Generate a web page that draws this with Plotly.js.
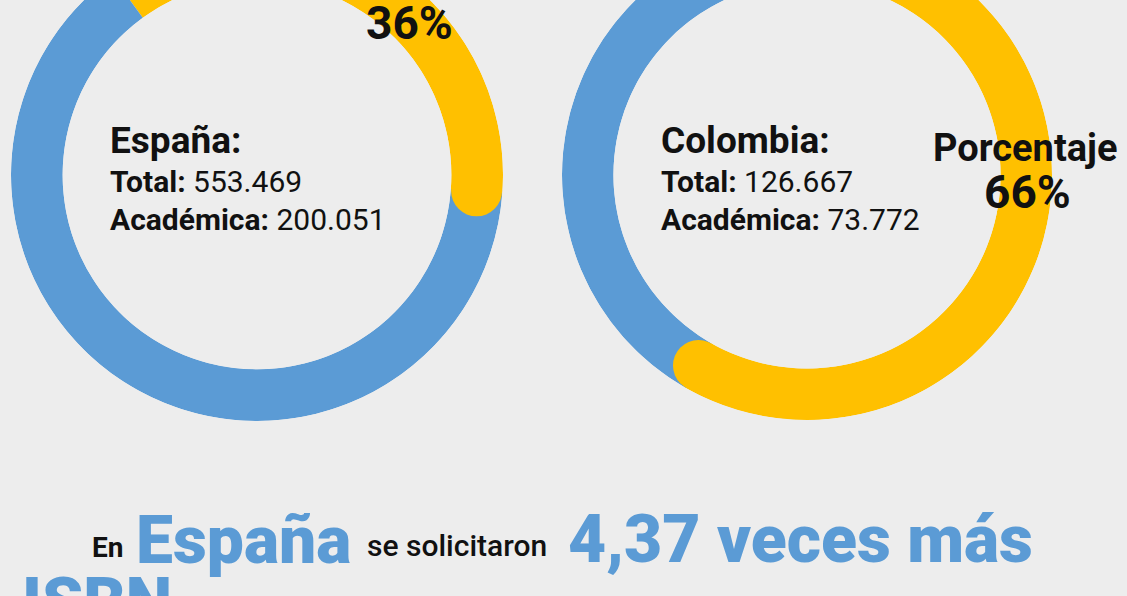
<!DOCTYPE html>
<html><head><meta charset="utf-8">
<script src="https://cdn.plot.ly/plotly-3.0.1.min.js"></script>
<style>
html,body{margin:0;padding:0;background:#ededed;overflow:hidden;width:1127px;height:596px;}
#chart{position:absolute;left:0;top:-80px;width:1127px;height:740px;}
</style></head><body><div id="chart"></div>
<script>
// ---- data ----
const countries = ["España", "Colombia"];
const totals = [553469, 126667];
const academic = [200051, 73772];
const percentLabels = ["36%", "66%"];
const percentTitle = "Porcentaje";
const sentenceParts = ["En", "España", "se solicitaron", "4,37 veces más", "ISBN"];

// ---- styling / layout ----
const BLUE = "#5b9bd5", YELLOW = "#ffc000", BG = "#ededed";
const W = 1127, H = 740, OFF = 80;
const px = x => x / W;
const py = y => 1 - (y + OFF) / H;
const startAngles = [-36, 0];
const HOLE = 0.79;
const domains = [
  {x: [px(11), px(503)], y: [py(421), py(-71)]},
  {x: [px(562), px(1052)], y: [py(420), py(-70)]}
];
const fmt = n => String(n).replace(/\B(?=(\d{3})+(?!\d))/g, ".");

const traces = [];
const layout = {
  width: W, height: H, margin: {l: 0, r: 0, t: 0, b: 0},
  paper_bgcolor: BG, plot_bgcolor: BG, showlegend: false, hovermode: false,
  font: {family: "Roboto, 'Open Sans', sans-serif", color: "#000"},
  annotations: []
};

countries.forEach((c, i) => {
  const sub = i === 0 ? "polar" : "polar2";
  const yDeg = academic[i] / totals[i] * 360;
  const bDeg = 360 - yDeg;
  const s = startAngles[i];
  traces.push({
    type: "barpolar", subplot: sub,
    r: [1, 1], base: [0, 0],
    theta: [s + yDeg / 2, s + yDeg + bDeg / 2],
    width: [yDeg, bDeg],
    marker: {color: [YELLOW, BLUE], line: {width: 0}},
    hoverinfo: "skip"
  });
  traces.push({
    type: "scatterpolar", subplot: sub, mode: "markers",
    r: [0.5], theta: [s + yDeg],
    marker: {color: YELLOW, size: 51, line: {width: 0}},
    hoverinfo: "skip"
  });
  layout[sub] = {
    domain: domains[i], hole: HOLE, bgcolor: "rgba(0,0,0,0)",
    radialaxis: {visible: false, range: [0, 1]},
    angularaxis: {visible: false, rotation: 90, direction: "clockwise"}
  };
});

const A = layout.annotations;
const add = (text, x, y, size, opts) => A.push(Object.assign({
  text, x: px(x), y: py(y), xref: "paper", yref: "paper",
  xanchor: "left", yanchor: "middle", showarrow: false,
  font: {family: "Roboto", size, color: "#111", weight: 400}
}, opts || {}));

const leftX = [108, 659];
countries.forEach((c, i) => {
  add(c + ":", leftX[i], 140.5, 37, {font: {family: "Roboto", size: 37, color: "#111", weight: 700}});
  add("<b>Total:</b> " + fmt(totals[i]), leftX[i], 181, 30);
  add("<b>Académica:</b> " + fmt(academic[i]), leftX[i], 219.5, 30);
});
// percent labels
add(percentLabels[0], 409, 23, 46, {xanchor: "center", font: {family: "Roboto", size: 46, color: "#111", weight: 700}});
add(percentTitle, 1025, 147.5, 38, {xanchor: "center", font: {family: "Roboto", size: 38, color: "#111", weight: 700}});
add(percentLabels[1], 1027, 192.5, 46, {xanchor: "center", font: {family: "Roboto", size: 46, color: "#111", weight: 700}});

// bottom sentence
add(sentenceParts[0], 90, 547, 28, {font: {family: "Roboto", size: 28, color: "#111", weight: 700}});
add(sentenceParts[1], 134, 540, 66, {font: {family: "Roboto", size: 66, color: BLUE, weight: 900}});
add(sentenceParts[2], 365, 545, 30, {font: {family: "Roboto", size: 30, color: "#111", weight: 500}});
add(sentenceParts[3], 566, 539, 66, {font: {family: "Roboto", size: 66, color: BLUE, weight: 900}});
add(sentenceParts[4], 20, 602, 66, {font: {family: "Roboto", size: 66, color: BLUE, weight: 900}});

Plotly.newPlot("chart", traces, layout, {staticPlot: true, displayModeBar: false});
</script></body></html>
